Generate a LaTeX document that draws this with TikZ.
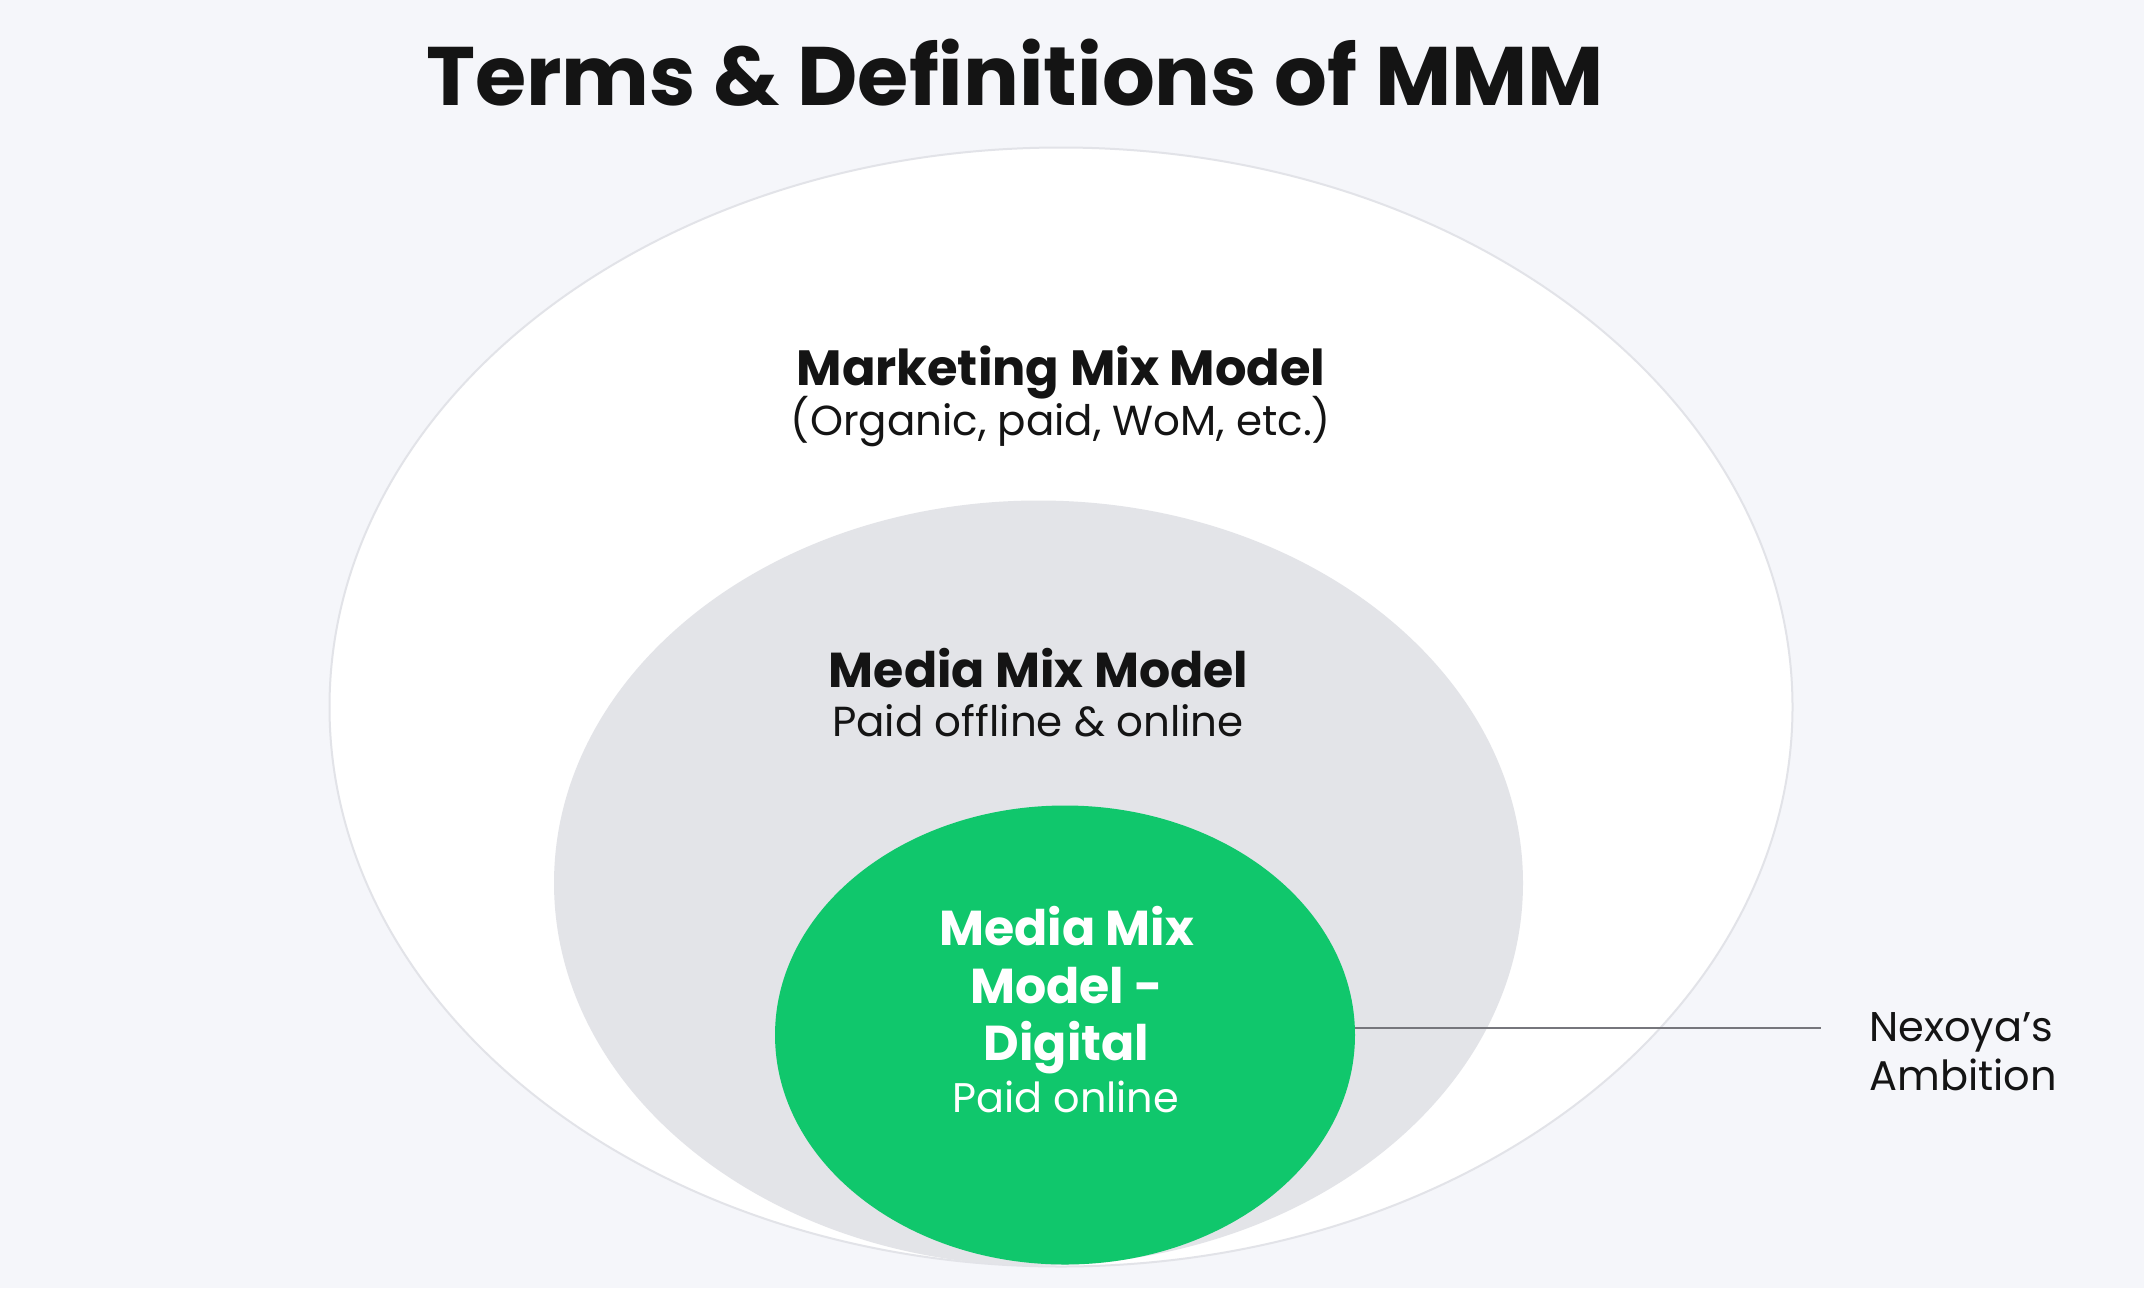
\documentclass[tikz,border=0pt]{standalone}
\usepackage{fontspec}
\setmainfont{Poppins}
\usetikzlibrary{shapes.geometric}

\definecolor{pageBg}{HTML}{F5F6FA}
\definecolor{ringLine}{HTML}{E2E3E8}
\definecolor{mediaGray}{HTML}{E3E4E8}
\definecolor{nexoyaGreen}{HTML}{10C76C}
\definecolor{leaderGray}{HTML}{76767C}
\definecolor{inkBlack}{HTML}{141414}

\begin{document}
\begin{tikzpicture}
[x=1pt,y=-1pt,
  ringDecorate/.style={shape=ellipse,inner sep=0pt,outer sep=0pt},%
  headText/.style={anchor=base,text=inkBlack,font=\fontsize{#1}{#1}\selectfont\bfseries},%
  subText/.style={anchor=base,text=inkBlack,font=\fontsize{#1}{#1}\selectfont},%
  leaderDecorate/.style={-,line width=2pt,draw=leaderGray}]
%% page
\fill[pageBg] (0,0) rectangle (2144,1288);
\useasboundingbox (0,0) rectangle (2144,1288);
%% title
\node (title) at (1015,105) [headText=83] {Terms \& Definitions of MMM};
%% rings
\node (marketing) at (1061,707) [ringDecorate,fill=white,draw=ringLine,line width=2pt,
  minimum width=1463pt,minimum height=1119pt] {};
\node (media) at (1038.5,883) [ringDecorate,fill=mediaGray,
  minimum width=969pt,minimum height=765pt] {};
\node (digital) at (1065,1035) [ringDecorate,fill=nexoyaGreen,
  minimum width=580pt,minimum height=459pt] {};
%% ring labels
\node (marketingHead) at (1061,385) [headText=49.5] {Marketing Mix Model};
\node (marketingSub) at (1061,435) [subText=42] {(Organic, paid, WoM, etc.)};
\node (mediaHead) at (1038.5,687) [headText=49] {Media Mix Model};
\node (mediaSub) at (1038,736) [subText=42] {Paid offline \& online};
\node (digitalHeadA) at (1066.5,945) [headText=49,text=white] {Media Mix};
\node (digitalHeadB) at (1066.5,1003) [headText=49,text=white] {Model -};
\node (digitalHeadC) at (1066.5,1060) [headText=49,text=white] {Digital};
\node (digitalSub) at (1065.7,1112) [subText=41.4,text=white] {Paid online};
%% ambition
\coordinate (ambitionEnd) at (1821,1028);
\node (ambitionA) at (1866,1041.5) [subText=41.5,anchor=base west] {Nexoya’s};
\node (ambitionB) at (1866,1090) [subText=41.5,anchor=base west] {Ambition};
\draw[leaderDecorate] (digital.east |- ambitionEnd) -- (ambitionEnd);
\end{tikzpicture}
\end{document}
